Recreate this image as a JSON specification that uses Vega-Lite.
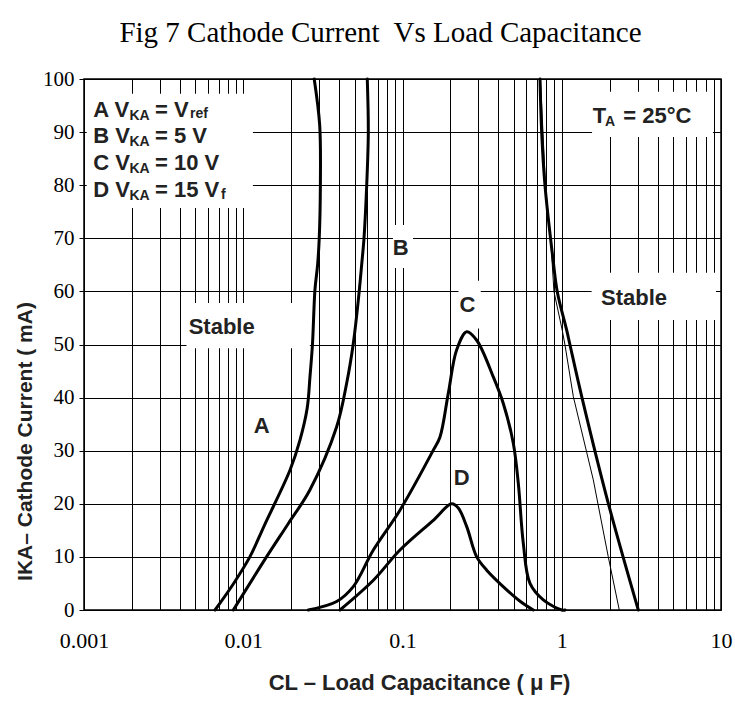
{
  "$schema": "https://vega.github.io/schema/vega-lite/v6.json",
  "width": 637,
  "height": 531,
  "autosize": {"type": "none"},
  "padding": {"left": 84, "top": 79, "right": 14, "bottom": 97},
  "background": "white",
  "title": {
    "text": "Fig 7 Cathode Current\u00a0 Vs Load Capacitance",
    "font": "Liberation Serif",
    "fontSize": 29,
    "fontWeight": "normal",
    "color": "black",
    "anchor": "middle",
    "frame": "group",
    "dx": -22,
    "offset": 20
  },
  "config": {
    "view": {"stroke": "black", "strokeWidth": 1.5},
    "axis": {"gridOpacity": 1}
  },
  "datasets": {
    "curves": [
      {"c": "A", "i": 0, "x": 0.00665, "y": 0},
      {"c": "A", "i": 1, "x": 0.0087, "y": 5},
      {"c": "A", "i": 2, "x": 0.011, "y": 10},
      {"c": "A", "i": 3, "x": 0.0136, "y": 16},
      {"c": "A", "i": 4, "x": 0.0197, "y": 26.4},
      {"c": "A", "i": 5, "x": 0.0227, "y": 32},
      {"c": "A", "i": 6, "x": 0.0252, "y": 38},
      {"c": "A", "i": 7, "x": 0.02624, "y": 43.9},
      {"c": "A", "i": 8, "x": 0.0272, "y": 50},
      {"c": "A", "i": 9, "x": 0.0282, "y": 60.3},
      {"c": "A", "i": 10, "x": 0.0293, "y": 65},
      {"c": "A", "i": 11, "x": 0.03, "y": 70},
      {"c": "A", "i": 12, "x": 0.0305, "y": 80},
      {"c": "A", "i": 13, "x": 0.0302, "y": 91.3},
      {"c": "A", "i": 14, "x": 0.0279, "y": 100},
      {"c": "B", "i": 0, "x": 0.00866, "y": 0},
      {"c": "B", "i": 1, "x": 0.014, "y": 10},
      {"c": "B", "i": 2, "x": 0.0192, "y": 16.3},
      {"c": "B", "i": 3, "x": 0.0262, "y": 22.6},
      {"c": "B", "i": 4, "x": 0.0386, "y": 34.5},
      {"c": "B", "i": 5, "x": 0.0446, "y": 42.7},
      {"c": "B", "i": 6, "x": 0.0491, "y": 50.2},
      {"c": "B", "i": 7, "x": 0.0528, "y": 58.4},
      {"c": "B", "i": 8, "x": 0.0554, "y": 65},
      {"c": "B", "i": 9, "x": 0.0573, "y": 70},
      {"c": "B", "i": 10, "x": 0.0596, "y": 80},
      {"c": "B", "i": 11, "x": 0.061, "y": 90},
      {"c": "B", "i": 12, "x": 0.0601, "y": 100},
      {"c": "C", "i": 0, "x": 0.0256, "y": 0},
      {"c": "C", "i": 1, "x": 0.0386, "y": 1.6},
      {"c": "C", "i": 2, "x": 0.0491, "y": 4.4},
      {"c": "C", "i": 3, "x": 0.0656, "y": 11.3},
      {"c": "C", "i": 4, "x": 0.0964, "y": 18.8},
      {"c": "C", "i": 5, "x": 0.1561, "y": 30.1},
      {"c": "C", "i": 6, "x": 0.172, "y": 32.6},
      {"c": "C", "i": 7, "x": 0.1939, "y": 40.8},
      {"c": "C", "i": 8, "x": 0.2189, "y": 49},
      {"c": "C", "i": 9, "x": 0.2531, "y": 52.4},
      {"c": "C", "i": 10, "x": 0.2924, "y": 50.8},
      {"c": "C", "i": 11, "x": 0.3717, "y": 43.9},
      {"c": "C", "i": 12, "x": 0.4295, "y": 38.9},
      {"c": "C", "i": 13, "x": 0.4963, "y": 31.4},
      {"c": "C", "i": 14, "x": 0.5334, "y": 23.9},
      {"c": "C", "i": 15, "x": 0.5734, "y": 12.6},
      {"c": "C", "i": 16, "x": 0.6318, "y": 5},
      {"c": "C", "i": 17, "x": 0.7659, "y": 1.9},
      {"c": "C", "i": 18, "x": 1.0, "y": 0},
      {"c": "C", "i": 19, "x": 1.05, "y": 0},
      {"c": "D", "i": 0, "x": 0.0405, "y": 0},
      {"c": "D", "i": 1, "x": 0.0656, "y": 5.6},
      {"c": "D", "i": 2, "x": 0.0964, "y": 11.3},
      {"c": "D", "i": 3, "x": 0.1561, "y": 16.9},
      {"c": "D", "i": 4, "x": 0.2036, "y": 20},
      {"c": "D", "i": 5, "x": 0.2241, "y": 19.2},
      {"c": "D", "i": 6, "x": 0.2531, "y": 15.7},
      {"c": "D", "i": 7, "x": 0.2924, "y": 10},
      {"c": "D", "i": 8, "x": 0.3379, "y": 7.5},
      {"c": "D", "i": 9, "x": 0.4511, "y": 3.8},
      {"c": "D", "i": 10, "x": 0.55, "y": 1.6},
      {"c": "D", "i": 11, "x": 0.6626, "y": 0},
      {"c": "R", "i": 0, "x": 0.7302, "y": 100},
      {"c": "R", "i": 1, "x": 0.748, "y": 90},
      {"c": "R", "i": 2, "x": 0.7845, "y": 80},
      {"c": "R", "i": 3, "x": 0.8849, "y": 65.6},
      {"c": "R", "i": 4, "x": 0.9377, "y": 59.9},
      {"c": "R", "i": 5, "x": 1.074, "y": 52.7},
      {"c": "R", "i": 6, "x": 1.127, "y": 49.9},
      {"c": "R", "i": 7, "x": 1.335, "y": 40.2},
      {"c": "R", "i": 8, "x": 1.96, "y": 20.1},
      {"c": "R", "i": 9, "x": 3.025, "y": 0},
      {"c": "T", "i": 0, "x": 0.735, "y": 100},
      {"c": "T", "i": 1, "x": 0.79, "y": 80},
      {"c": "T", "i": 2, "x": 0.86, "y": 68},
      {"c": "T", "i": 3, "x": 0.893, "y": 60},
      {"c": "T", "i": 4, "x": 1.007, "y": 52.7},
      {"c": "T", "i": 5, "x": 1.048, "y": 49.9},
      {"c": "T", "i": 6, "x": 1.182, "y": 40.2},
      {"c": "T", "i": 7, "x": 1.578, "y": 24.5},
      {"c": "T", "i": 8, "x": 1.96, "y": 10},
      {"c": "T", "i": 9, "x": 2.298, "y": 0}
    ],
    "boxes": [
      {"x": 0.00104, "x2": 0.0115, "y": 75.7, "y2": 97.2},
      {"x": 1.55, "x2": 8.9, "y": 89.1, "y2": 97.6},
      {"x": 0.0044, "x2": 0.0262, "y": 49.3, "y2": 57.8},
      {"x": 1.54, "x2": 9.3, "y": 54.6, "y2": 63.5},
      {"x": 0.0871, "x2": 0.1164, "y": 64.4, "y2": 72.5},
      {"x": 0.2245, "x2": 0.31, "y": 53, "y2": 62},
      {"x": 0.205, "x2": 0.27, "y": 22, "y2": 28}
    ],
    "labels": [
      {"role": "main", "x": 0.001144, "y": 92.9, "t": "A V"},
      {"role": "main", "x": 0.002793, "y": 92.9, "t": "= V"},
      {"role": "main", "x": 0.001144, "y": 87.9, "t": "B V"},
      {"role": "main", "x": 0.002793, "y": 87.9, "t": "= 5 V"},
      {"role": "main", "x": 0.001144, "y": 82.85, "t": "C V"},
      {"role": "main", "x": 0.002793, "y": 82.85, "t": "= 10 V"},
      {"role": "main", "x": 0.001144, "y": 77.8, "t": "D V"},
      {"role": "main", "x": 0.002793, "y": 77.8, "t": "= 15 V"},
      {"role": "main", "x": 1.564, "y": 91.66, "t": "T"},
      {"role": "main", "x": 2.435, "y": 91.66, "t": "= 25°C"},
      {"role": "sub", "x": 0.00193, "y": 92.3, "t": "KA"},
      {"role": "sub", "x": 0.00193, "y": 87.3, "t": "KA"},
      {"role": "sub", "x": 0.00193, "y": 82.25, "t": "KA"},
      {"role": "sub", "x": 0.00193, "y": 77.2, "t": "KA"},
      {"role": "sub", "x": 0.00463, "y": 92.6, "t": "ref"},
      {"role": "sub", "x": 0.00725, "y": 77.4, "t": "f"},
      {"role": "sub", "x": 1.87, "y": 91.2, "t": "A"},
      {"role": "center", "x": 0.00732, "y": 52.0, "t": "Stable"},
      {"role": "center", "x": 2.842, "y": 57.4, "t": "Stable"},
      {"role": "center", "x": 0.01305, "y": 33.3, "t": "A"},
      {"role": "center", "x": 0.0974, "y": 66.85, "t": "B"},
      {"role": "center", "x": 0.2553, "y": 56.2, "t": "C"},
      {"role": "center", "x": 0.2353, "y": 23.5, "t": "D"}
    ]
  },
  "encoding": {
    "x": {
      "field": "x",
      "type": "quantitative",
      "scale": {"type": "log", "domain": [0.001, 10], "nice": false},
      "axis": {
        "values": [0.001, 0.002, 0.003, 0.004, 0.005, 0.006, 0.007, 0.008, 0.009, 0.01, 0.02, 0.03, 0.04, 0.05, 0.06, 0.07, 0.08, 0.09, 0.1, 0.2, 0.3, 0.4, 0.5, 0.6, 0.7, 0.8, 0.9, 1, 2, 3, 4, 5, 6, 7, 8, 9, 10],
        "labelExpr": "datum.value == 0.001 ? '0.001' : datum.value == 0.01 ? '0.01' : datum.value == 0.1 ? '0.1' : datum.value == 1 ? '1' : datum.value == 10 ? '10' : ''",
        "labelOverlap": false,
        "labelBound": false,
        "labelFlush": false,
        "labelFont": "Liberation Serif",
        "labelFontSize": 22,
        "labelColor": "black",
        "labelPadding": 20,
        "ticks": false,
        "domain": false,
        "grid": true,
        "gridColor": "black",
        "gridWidth": 1,
        "title": "CL – Load Capacitance  ( μ F)",
        "titleFont": "Liberation Sans",
        "titleFontSize": 22,
        "titleFontWeight": "bold",
        "titleColor": "#222222",
        "titleX": 335,
        "titleY": 72,
        "titleAlign": "center",
        "titleBaseline": "middle"
      }
    },
    "y": {
      "field": "y",
      "type": "quantitative",
      "scale": {"domain": [0, 100], "nice": false, "zero": false},
      "axis": {
        "values": [0, 10, 20, 30, 40, 50, 60, 70, 80, 90, 100],
        "labelFont": "Liberation Serif",
        "labelFontSize": 21,
        "labelColor": "black",
        "labelPadding": 5,
        "tickSize": 5,
        "tickColor": "black",
        "domain": false,
        "grid": true,
        "gridColor": "black",
        "gridWidth": 1,
        "title": "IKA– Cathode Current ( mA)",
        "titleFont": "Liberation Sans",
        "titleFontSize": 21,
        "titleFontWeight": "bold",
        "titleColor": "#222222",
        "titleAngle": -90,
        "titleX": -59,
        "titleY": 362,
        "titleAlign": "center",
        "titleBaseline": "middle"
      }
    }
  },
  "layer": [
    {
      "data": {"name": "boxes"},
      "mark": {"type": "rect", "color": "white", "stroke": null},
      "encoding": {
        "x2": {"field": "x2"},
        "y2": {"field": "y2"}
      }
    },
    {
      "data": {"name": "curves"},
      "transform": [{"filter": "datum.c != 'T'"}],
      "mark": {"type": "line", "color": "black", "strokeWidth": 3, "interpolate": "catmull-rom", "strokeJoin": "round", "strokeCap": "round"},
      "encoding": {
        "detail": {"field": "c"},
        "order": {"field": "i", "type": "quantitative"}
      }
    },
    {
      "data": {"name": "curves"},
      "transform": [{"filter": "datum.c == 'T'"}],
      "mark": {"type": "line", "color": "black", "strokeWidth": 1, "interpolate": "linear"},
      "encoding": {
        "detail": {"field": "c"},
        "order": {"field": "i", "type": "quantitative"}
      }
    },
    {
      "data": {"name": "labels"},
      "transform": [{"filter": "datum.role == 'main'"}],
      "mark": {"type": "text", "align": "left", "baseline": "alphabetic", "font": "Liberation Sans", "fontSize": 22, "fontWeight": "bold", "color": "#222222"},
      "encoding": {"text": {"field": "t"}}
    },
    {
      "data": {"name": "labels"},
      "transform": [{"filter": "datum.role == 'sub'"}],
      "mark": {"type": "text", "align": "left", "baseline": "alphabetic", "font": "Liberation Sans", "fontSize": 14, "fontWeight": "bold", "color": "#222222"},
      "encoding": {"text": {"field": "t"}}
    },
    {
      "data": {"name": "labels"},
      "transform": [{"filter": "datum.role == 'center'"}],
      "mark": {"type": "text", "align": "center", "baseline": "alphabetic", "font": "Liberation Sans", "fontSize": 22, "fontWeight": "bold", "color": "#222222"},
      "encoding": {"text": {"field": "t"}}
    }
  ]
}
